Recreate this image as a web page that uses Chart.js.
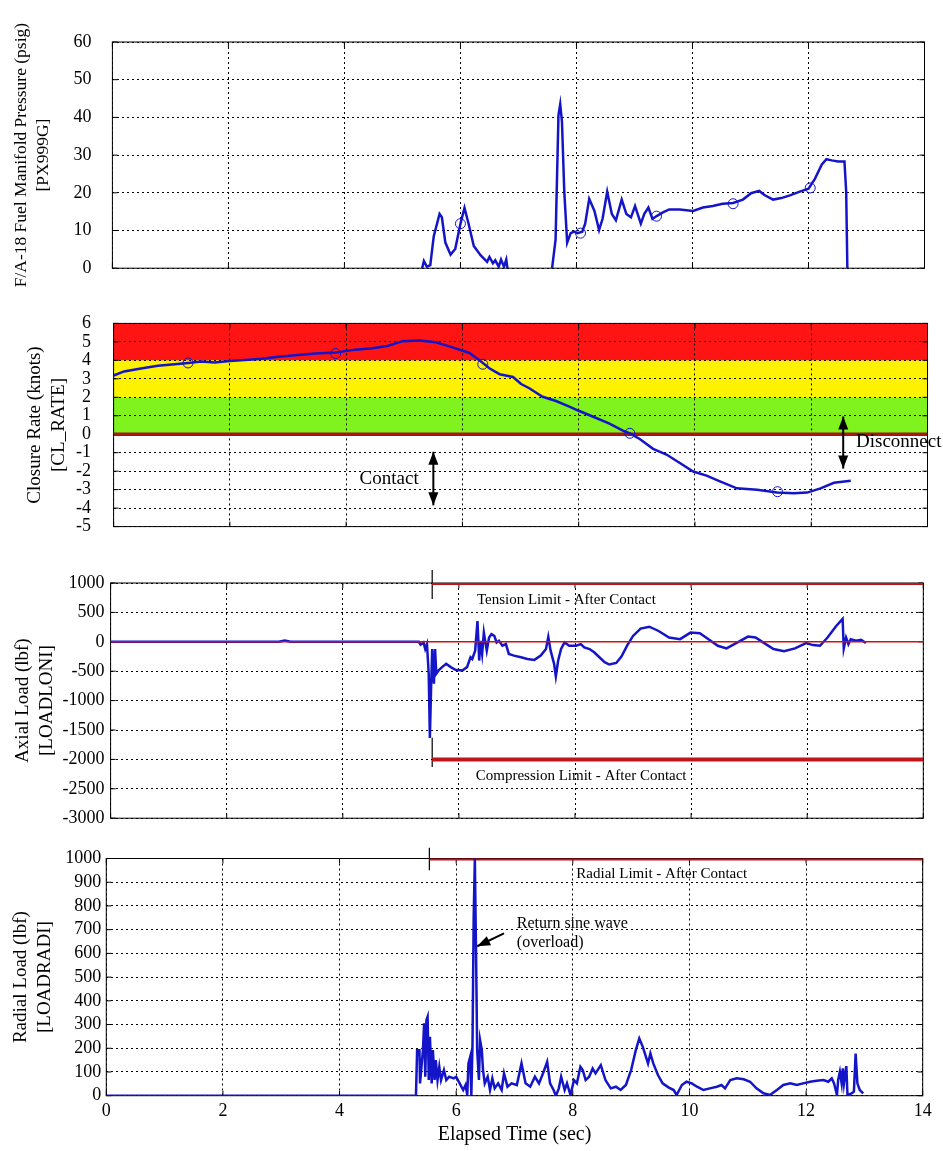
<!DOCTYPE html>
<html>
<head>
<meta charset="utf-8">
<title>Probe contact loads</title>
<script src="https://cdn.jsdelivr.net/npm/chart.js@4.4.1/dist/chart.umd.min.js"></script>
<style>
  body { margin: 0; background: #fff; }
  canvas { position: absolute; left: 0; }
</style>
</head>
<body>
<canvas id="pressure" width="943" height="300" style="top:0"></canvas>
<canvas id="closure" width="943" height="270" style="top:290px"></canvas>
<canvas id="axial" width="943" height="275" style="top:560px"></canvas>
<canvas id="radial" width="943" height="321" style="top:830px"></canvas>
<script>
// --- data (time in seconds) ---
const pressureTime = [5.34, 5.37, 5.42, 5.48, 5.54, 5.64, 5.68, 5.74, 5.83, 5.91,
  6.0, 6.07, 6.14, 6.23, 6.35, 6.46, 6.5, 6.56, 6.6, 6.66,
  6.7, 6.75, 6.79, 6.81, 7.2, 7.58, 7.64, 7.69, 7.72, 7.75,
  7.79, 7.84, 7.9, 7.96, 8.02, 8.1, 8.15, 8.22, 8.31, 8.39,
  8.45, 8.53, 8.61, 8.68, 8.78, 8.86, 8.94, 9.01, 9.11, 9.17,
  9.24, 9.31, 9.39, 9.49, 9.6, 9.78, 10.01, 10.18, 10.35, 10.52,
  10.7, 10.87, 11.01, 11.15, 11.24, 11.39, 11.53, 11.68, 11.85, 12.0,
  12.11, 12.23, 12.31, 12.4, 12.51, 12.62, 12.65, 12.67];
const pressureValue = [0, 1.9, 0.4, 0.8, 8.5, 14.4, 13.5, 6.8, 3.6, 5.1,
  11.8, 16, 11.8, 5.9, 3.4, 1.7, 3, 1.3, 2.1, 0.4,
  2.3, 0.4, 2.3, 0, null, 0, 7.6, 40.6, 43.5, 38.9,
  20.3, 6.8, 9.3, 9.7, 9.3, 9.7, 11.8, 18.4, 15.2, 10.1,
  13.1, 20.3, 14.4, 12.7, 18.2, 14.4, 13.5, 16.5, 11.8, 14.4,
  16.1, 13.1, 13.9, 14.8, 15.6, 15.6, 15.2, 16.1, 16.5, 17.1,
  17.3, 18.2, 19.9, 20.5, 19.4, 18.2, 18.6, 19.3, 20.3, 21.1,
  23.7, 27.5, 28.9, 28.6, 28.3, 28.3, 20.3, 0];
const pressureMarkTime = [6.0, 8.07, 9.38, 10.7, 12.03];
const pressureMarkValue = [11.8, 9.3, 13.8, 17.1, 21.3];

const closureTime = [0, 0.18, 0.47, 0.76, 1.05, 1.28, 1.51, 1.74, 2.0, 2.26,
  2.55, 2.84, 3.12, 3.47, 3.82, 4.16, 4.45, 4.71, 4.97, 5.26,
  5.54, 5.83, 6.12, 6.32, 6.47, 6.64, 6.87, 7.01, 7.15, 7.38,
  7.61, 7.84, 8.0, 8.24, 8.53, 8.76, 8.88, 9.05, 9.28, 9.51,
  9.74, 9.97, 10.2, 10.43, 10.72, 11.07, 11.41, 11.7, 11.93, 12.16,
  12.39, 12.68];
const closureValue = [3.18, 3.4, 3.56, 3.71, 3.79, 3.86, 3.94, 3.89, 3.97, 4.02,
  4.09, 4.2, 4.27, 4.37, 4.43, 4.58, 4.66, 4.78, 5.04, 5.07,
  4.98, 4.7, 4.4, 3.94, 3.56, 3.25, 3.1, 2.72, 2.49, 2.03,
  1.8, 1.5, 1.27, 0.96, 0.58, 0.2, 0.05, -0.26, -0.79, -1.1,
  -1.56, -2.02, -2.24, -2.55, -2.93, -3.0, -3.16, -3.2, -3.16, -2.93,
  -2.63, -2.52];
const closureMarkTime = [1.28, 3.82, 6.35, 8.88, 11.42];
const closureMarkValue = [3.86, 4.37, 3.79, 0.05, -3.11];
const closureZones = [0, 2, 4, 6]; // green | yellow | red band edges (knots)

const axialTime = [0, 2.9, 3.0, 3.1, 5.31, 5.34, 5.39, 5.42, 5.45, 5.48,
  5.5, 5.52, 5.54, 5.57, 5.59, 5.61, 5.65, 5.71, 5.78, 5.86,
  5.94, 6.06, 6.14, 6.2, 6.23, 6.28, 6.32, 6.35, 6.37, 6.4,
  6.43, 6.48, 6.52, 6.56, 6.61, 6.65, 6.69, 6.75, 6.81, 6.86,
  6.95, 7.07, 7.18, 7.3, 7.41, 7.5, 7.54, 7.58, 7.64, 7.67,
  7.71, 7.76, 7.82, 7.9, 8.02, 8.1, 8.16, 8.25, 8.33, 8.42,
  8.51, 8.59, 8.71, 8.8, 8.9, 9.0, 9.13, 9.28, 9.44, 9.62,
  9.81, 9.99, 10.15, 10.3, 10.46, 10.61, 10.8, 10.98, 11.11, 11.26,
  11.42, 11.6, 11.79, 11.98, 12.1, 12.22, 12.35, 12.5, 12.61, 12.63,
  12.67, 12.71, 12.75, 12.84, 12.93, 13.01];
const axialValue = [0, 0, 20, 0, 0, -50, -11, -123, -39, -543,
  -1635, -823, -123, -711, -123, -543, -487, -431, -375, -431,
  -476, -487, -431, -263, -291, -151, 353, -319, 17, -207,
  157, -151, 73, 129, 101, -11, 17, -67, -39, -207,
  -235, -263, -291, -308, -235, -123, 84, -151, -375, -588,
  -319, -123, -11, -67, -67, -39, -95, -123, -179, -263,
  -347, -386, -360, -250, -60, 100, 224, 257, 184, 73,
  45, 157, 145, 45, -67, -112, -11, 89, 73, -22,
  -123, -162, -112, -22, -56, -67, 73, 268, 391, -112,
  73, -39, 45, 17, 34, -22];

const radialTime = [0, 5.31, 5.33, 5.37, 5.38, 5.41, 5.43, 5.45, 5.47, 5.49,
  5.51, 5.53, 5.55, 5.58, 5.6, 5.63, 5.65, 5.68, 5.71, 5.74,
  5.79, 5.83, 5.88, 5.96, 6.0, 6.06, 6.12, 6.16, 6.19, 6.21,
  6.24, 6.26, 6.28, 6.3, 6.32, 6.34, 6.36, 6.39, 6.41, 6.44,
  6.46, 6.49, 6.54, 6.58, 6.62, 6.66, 6.72, 6.78, 6.82, 6.88,
  6.95, 7.04, 7.12, 7.19, 7.27, 7.35, 7.42, 7.5, 7.56, 7.61,
  7.67, 7.71, 7.76, 7.8, 7.86, 7.9, 7.96, 8.02, 8.07, 8.13,
  8.17, 8.22, 8.28, 8.34, 8.39, 8.48, 8.56, 8.65, 8.74, 8.82,
  8.91, 9.0, 9.08, 9.14, 9.2, 9.29, 9.33, 9.38, 9.46, 9.54,
  9.64, 9.73, 9.78, 9.87, 9.95, 10.04, 10.13, 10.24, 10.35, 10.47,
  10.55, 10.61, 10.7, 10.81, 10.93, 11.04, 11.15, 11.27, 11.38, 11.5,
  11.61, 11.73, 11.84, 11.95, 12.07, 12.18, 12.3, 12.38, 12.44, 12.48,
  12.53, 12.55, 12.58, 12.61, 12.63, 12.65, 12.69, 12.71, 12.78, 12.82,
  12.85, 12.88, 12.92, 12.98];
const radialValue = [0, 0, 192, 192, 52, 136, 192, 305, 80, 319,
  333, 66, 248, 52, 192, 66, 150, 66, 122, 66,
  108, 66, 80, 73, 80, 52, 24, 45, 3, 136,
  164, 3, 220, 754, 1000, 614, 192, 66, 234, 192,
  108, 52, 80, 24, 73, 31, 52, 24, 94, 38,
  52, 45, 136, 52, 38, 80, 52, 101, 143, 52,
  24, 0, 31, 80, 24, 52, 3, 66, 52, 122,
  108, 66, 80, 115, 94, 129, 66, 31, 38, 24,
  45, 108, 192, 241, 206, 136, 178, 136, 87, 52,
  35, 24, 3, 45, 59, 52, 38, 24, 31, 38,
  45, 31, 66, 73, 69, 59, 31, 10, 3, 24,
  45, 52, 45, 52, 59, 63, 66, 59, 73, 52,
  3, 66, 101, 52, 115, 52, 125, 3, 10, 17,
  178, 52, 24, 10];

const timeMax = 14;
const contactTime = 5.54;
const tensionLimit = 1000;
const compressionLimit = -2000;
const radialLimit = 1000;
const axialContactMarks = [[1220, 730], [-1630, -2130]];
const radialContactMark = [1045, 950];

// --- look ---
const serif = "'Liberation Serif', 'Times New Roman', serif";
Chart.defaults.font.family = serif;
Chart.defaults.color = '#000';
const blue = '#1414c8';
const limitRed = '#c0141c';

const pts = (xs, ys) => xs.map((x, i) => ({ x, y: ys[i] }));
const flat = (x0, x1, y) => [{ x: x0, y }, { x: x1, y }];
const upright = (x, span) => [{ x, y: span[0] }, { x, y: span[1] }];

const line = (data, color, width, extra) => Object.assign({
  data, borderColor: color, borderWidth: width, pointRadius: 0, fill: false, tension: 0
}, extra || {});

const rings = data => ({
  data, showLine: false, pointRadius: 5, pointStyle: 'circle',
  pointBorderColor: blue, pointBackgroundColor: 'rgba(0,0,0,0)', pointBorderWidth: 1
});

const band = (top, bottom, color) => ({
  data: flat(0, timeMax, top), borderWidth: 0, borderColor: 'rgba(0,0,0,0)',
  pointRadius: 0, fill: { value: bottom }, backgroundColor: color
});

function xAxis(height, show) {
  return {
    type: 'linear', min: 0, max: timeMax,
    afterFit: s => { s.height = height; },
    ticks: { stepSize: 2, autoSkip: false, display: show, padding: 5, font: { size: 18 }, color: '#000', callback: v => String(v) },
    grid: { color: '#000', lineWidth: 1, drawTicks: false },
    border: { display: false, dash: [2, 3] },
    title: { display: show, text: 'Elapsed Time (sec)', font: { size: 20 }, padding: { top: 0, bottom: 4 }, color: '#000' }
  };
}

function yAxis(min, max, step, title, titleSize, titlePad, tickPad, width) {
  return {
    type: 'linear', min, max,
    afterFit: s => { s.width = width; },
    ticks: { stepSize: step, autoSkip: false, padding: tickPad, font: { size: 18 }, color: '#000', callback: v => String(v) },
    grid: { color: '#000', lineWidth: 1, drawTicks: false },
    border: { display: false, dash: [2, 3] },
    title: { display: true, text: title, font: { size: titleSize, lineHeight: 1.25 }, padding: { top: titlePad, bottom: 0 }, color: '#000' }
  };
}

function options(top, right, x, y) {
  return {
    responsive: false, animation: false, events: [],
    layout: { padding: { top, right, bottom: 0, left: 0 } },
    scales: { x, y },
    plugins: { legend: { display: false }, tooltip: { enabled: false }, filler: { drawTime: 'beforeDraw' } }
  };
}

// box round the plot with small inward ticks, like the original plotting tool
const frame = {
  id: 'frame',
  beforeDatasetsDraw(chart) {
    const { ctx, chartArea: a, scales: { x, y } } = chart;
    ctx.save();
    ctx.strokeStyle = '#000';
    ctx.lineWidth = 1;
    ctx.strokeRect(a.left, a.top, a.right - a.left, a.bottom - a.top);
    ctx.beginPath();
    x.ticks.forEach(t => {
      const px = x.getPixelForValue(t.value);
      ctx.moveTo(px, a.bottom); ctx.lineTo(px, a.bottom - 5);
      ctx.moveTo(px, a.top); ctx.lineTo(px, a.top + 5);
    });
    y.ticks.forEach(t => {
      const py = y.getPixelForValue(t.value);
      ctx.moveTo(a.left, py); ctx.lineTo(a.left + 5, py);
      ctx.moveTo(a.right, py); ctx.lineTo(a.right - 5, py);
    });
    ctx.stroke();
    ctx.restore();
  }
};

function head(ctx, x, y, ang) {
  const L = 13, W = 5;
  ctx.beginPath();
  ctx.moveTo(x, y);
  ctx.lineTo(x - L * Math.cos(ang) + W * Math.sin(ang), y - L * Math.sin(ang) - W * Math.cos(ang));
  ctx.lineTo(x - L * Math.cos(ang) - W * Math.sin(ang), y - L * Math.sin(ang) + W * Math.cos(ang));
  ctx.closePath();
  ctx.fill();
}

// text labels and arrows placed in data units
const notes = (texts, arrows) => ({
  id: 'notes',
  afterDatasetsDraw(chart) {
    const { ctx, scales: { x, y } } = chart;
    ctx.save();
    ctx.fillStyle = '#000';
    ctx.strokeStyle = '#000';
    texts.forEach(t => {
      ctx.font = t.size + 'px ' + serif;
      ctx.textAlign = t.align || 'left';
      ctx.textBaseline = 'middle';
      ctx.fillText(t.text, x.getPixelForValue(t.x), y.getPixelForValue(t.y));
    });
    arrows.forEach(a => {
      const x1 = x.getPixelForValue(a.x1), y1 = y.getPixelForValue(a.y1);
      const x2 = x.getPixelForValue(a.x2), y2 = y.getPixelForValue(a.y2);
      const ang = Math.atan2(y2 - y1, x2 - x1);
      ctx.lineWidth = 2;
      ctx.beginPath(); ctx.moveTo(x1, y1); ctx.lineTo(x2, y2); ctx.stroke();
      head(ctx, x2, y2, ang);
      if (a.both) head(ctx, x1, y1, ang + Math.PI);
    });
    ctx.restore();
  }
});

new Chart(document.getElementById('pressure'), {
  type: 'line',
  data: { datasets: [
    rings(pts(pressureMarkTime, pressureMarkValue)),
    line(pts(pressureTime, pressureValue), blue, 2.5)
  ] },
  options: options(42, 18.5, xAxis(20.7, false),
    yAxis(0, 60, 10, ['F/A-18 Fuel Manifold Pressure (psig)', '[PX999G]'], 17.5, 10.5, 21, 112.4)),
  plugins: [frame]
});

new Chart(document.getElementById('closure'), {
  type: 'line',
  data: { datasets: [
    rings(pts(closureMarkTime, closureMarkValue)),
    line(pts(closureTime, closureValue), blue, 2.5),
    line(flat(0, timeMax, closureZones[0]), '#a8160e', 3.5),
    band(closureZones[3], closureZones[2], '#ff1414'),
    band(closureZones[2], closureZones[1], '#fff200'),
    band(closureZones[1], closureZones[0], '#80f21e')
  ] },
  options: options(17.5, 15.5, xAxis(16, false),
    yAxis(-5, 6, 1, ['Closure Rate (knots)', '[CL_RATE]'], 19, 23.5, 22.6, 113.6)),
  plugins: [frame, notes(
    [{ text: 'Contact', x: 4.74, y: -2.4, size: 19, align: 'center' },
     { text: 'Disconnect', x: 12.77, y: -0.41, size: 19, align: 'left' }],
    [{ x1: 5.5, y1: -0.95, x2: 5.5, y2: -3.85, both: true },
     { x1: 12.55, y1: 0.96, x2: 12.55, y2: -1.86, both: true }]
  )]
});

new Chart(document.getElementById('axial'), {
  type: 'line',
  data: { datasets: [
    line(flat(0, timeMax, 0), '#d01010', 1.5),
    line(pts(axialTime, axialValue), blue, 2.5),
    line(flat(contactTime, timeMax, tensionLimit), limitRed, 4),
    line(flat(contactTime, timeMax, compressionLimit), limitRed, 4),
    line(upright(contactTime, axialContactMarks[0]), '#000', 1.2, { clip: false }),
    line(upright(contactTime, axialContactMarks[1]), '#000', 1.2, { clip: false })
  ] },
  options: options(23, 19.7, xAxis(14, false),
    yAxis(-3000, 1000, 500, ['Axial Load (lbf)', '[LOADLONI]'], 19, 11.6, 6, 110.6)),
  plugins: [frame, notes(
    [{ text: 'Tension Limit - After Contact', x: 6.31, y: 715, size: 15 },
     { text: 'Compression Limit - After Contact', x: 6.29, y: -2286, size: 15 }],
    []
  )]
});

new Chart(document.getElementById('radial'), {
  type: 'line',
  data: { datasets: [
    line(pts(radialTime, radialValue), blue, 2.5),
    line(flat(contactTime, timeMax, radialLimit), limitRed, 4),
    line(upright(contactTime, radialContactMark), '#000', 1.2, { clip: false })
  ] },
  options: options(28.5, 20.3, xAxis(55.3, true),
    yAxis(0, 1000, 100, ['Radial Load (lbf)', '[LOADRADI]'], 19, 9.6, 5, 106.3)),
  plugins: [frame, notes(
    [{ text: 'Radial Limit - After Contact', x: 8.06, y: 936, size: 15 },
     { text: 'Return sine wave', x: 7.04, y: 726, size: 16 },
     { text: '(overload)', x: 7.04, y: 644, size: 16 }],
    [{ x1: 6.82, y1: 684, x2: 6.36, y2: 630, both: false }]
  )]
});
</script>
</body>
</html>
